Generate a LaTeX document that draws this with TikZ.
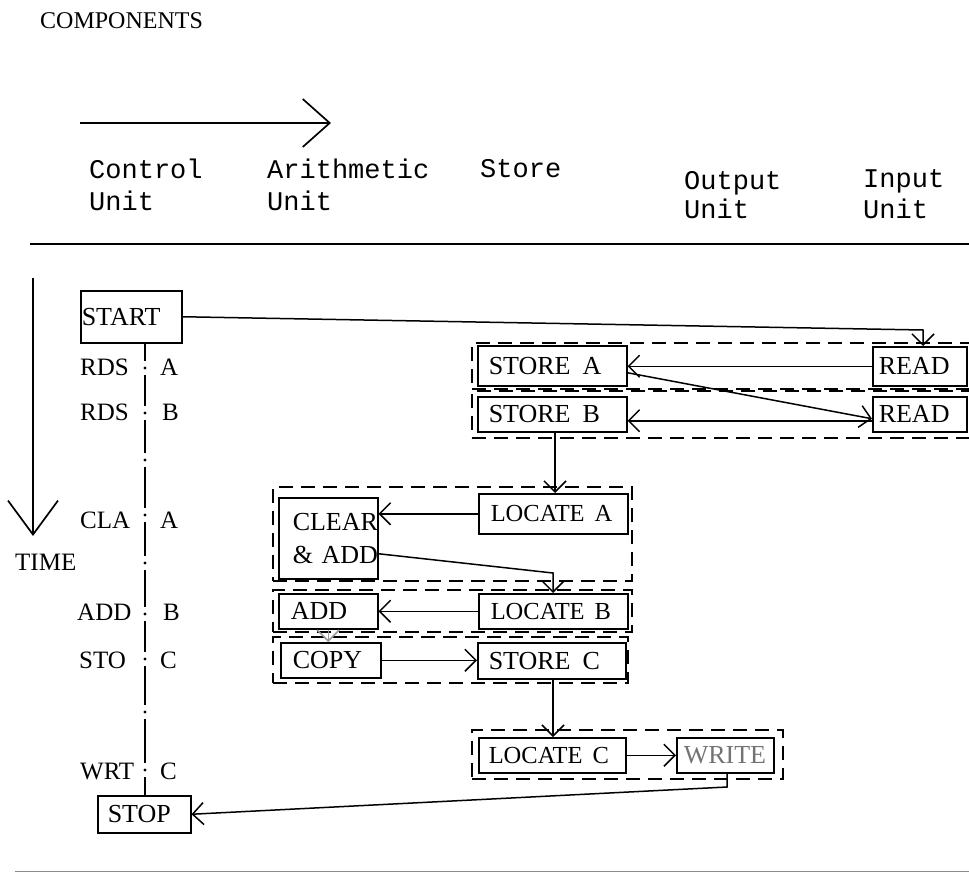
\documentclass[tikz,border=0pt]{standalone}
\usepackage{fontspec}
\setmainfont{Liberation Serif}
\setmonofont{Liberation Mono}
\usetikzlibrary{arrows.meta,fit}
\begin{document}
\begin{tikzpicture}[x=1pt,y=-1pt,
  bx/.style={draw, line width=1.5pt, inner ysep=0pt, align=left, anchor=north west,
    font=\fontsize{26}{33}\selectfont},
  loc/.style={font=\fontsize{24.5}{33}\selectfont},
  grp/.style={draw, dash pattern=on 14pt off 8pt, line width=1.5pt, inner sep=0pt},
  lbl/.style={anchor=base west, inner sep=0pt, font=\fontsize{25}{28}\selectfont},
  mono/.style={anchor=base west, inner sep=0pt, font=\ttfamily\fontsize{27}{32}\selectfont},
  arr/.style={-{Straight Barb[length=11pt,width=22pt]}, line width=1.5pt},
  bigarr/.style={-{Straight Barb[length=27pt,width=48pt]}, line width=1.7pt},
  rule/.style={line width=1.8pt}
]
\useasboundingbox (0,0) rectangle (969,875);

% header
\node[lbl, font=\fontsize{24}{28}\selectfont] (comp) at (40,29) {COMPONENTS};
\coordinate (h0) at (80,123);
\coordinate (h1) at (331,123);
\draw[bigarr] (h0) -- (h1);
\node[mono] (cu1) at (89,178) {Control};
\node[mono] (cu2) at (89,210) {Unit};
\node[mono] (au1) at (267,178) {Arithmetic};
\node[mono] (au2) at (267,210) {Unit};
\node[mono] (su1) at (480,177) {Store};
\node[mono] (ou1) at (684,189) {Output};
\node[mono] (ou2) at (684,218) {Unit};
\node[mono] (iu1) at (863,187) {Input};
\node[mono] (iu2) at (863,218) {Unit};
\coordinate (r0) at (30,244);
\coordinate (r1e) at (969,244);
\draw[rule] (r0) -- (r1e);
\coordinate (b0) at (15,871);
\coordinate (b1) at (969,871);
\draw[line width=1pt, black!45] (b0) -- (b1);

% time arrow
\coordinate (t0) at (33,278);
\coordinate (t1) at (33,536);
\draw[-{Straight Barb[length=34pt,width=50pt]}, line width=1.7pt] (t0) -- (t1);
\node[lbl] (time) at (15,570) {TIME};

% control column
\node[bx, text width=99pt, inner xsep=1pt, minimum height=52pt] (st) at (80,290) {START};
\node[bx, text width=73pt, inner xsep=10pt, minimum height=37pt] (sp) at (97,795) {STOP};
\node[lbl] (i1) at (80,375) {RDS};  \node[lbl] (a1) at (160,375) {A};
\node[lbl] (i2) at (80,420) {RDS};  \node[lbl] (a2) at (162,420) {B};
\node[lbl] (i3) at (80,528) {CLA};  \node[lbl] (a3) at (160,528) {A};
\node[lbl] (i4) at (77,620) {ADD};  \node[lbl] (a4) at (163,620) {B};
\node[lbl] (i5) at (79,668) {STO};  \node[lbl] (a5) at (160,668) {C};
\node[lbl] (i6) at (80,779) {WRT};  \node[lbl] (a6) at (160,779) {C};
% dash-dot control line
\draw[line width=1.5pt]
  (145,342) -- (145,361) (145,375) -- (145,406) (145,420) -- (145,453)
  (145,467) -- (145,508) (145,522) -- (145,556) (145,570) -- (145,607)
  (145,621) -- (145,652) (145,666) -- (145,705) (145,719) -- (145,763)
  (145,777) -- (145,795);
\foreach \yy in {368,413,460,515,563,614,659,712,770}
  \fill (145,\yy) circle (1.7pt);

% dashed groups
\node[grp, fit={(472,343) (975,389)}] (g1) {};
\node[grp, fit={(472,391) (975,438)}] (g2) {};
\node[grp, fit={(273,487) (632,581)}] (g3) {};
\node[grp, fit={(273,590) (632,632)}] (g4) {};
\node[grp, fit={(273,637) (628,683)}] (g5) {};
\node[grp, fit={(472,730) (783,779)}] (g6) {};

% store / unit boxes
\node[bx, text width=127pt, inner xsep=11pt, minimum height=40pt] (sa) at (477,345) {\mbox{STORE\hspace{12pt}A}};
\node[bx, text width=127pt, inner xsep=11pt, minimum height=35pt] (sb) at (477,396) {\mbox{STORE\hspace{12pt}B}};
\node[bx, text width=82pt, inner xsep=6pt, minimum height=39pt] (rd1) at (872,346) {READ};
\node[bx, text width=82pt, inner xsep=6pt, minimum height=35pt] (rd2) at (872,396) {READ};
\node[bx, loc, text width=125pt, inner xsep=12pt, minimum height=40pt] (la) at (478,493) {\mbox{LOCATE\hspace{10pt}A}};
\node[bx, text width=71pt, inner xsep=14pt, minimum height=81pt] (ca) at (278,497) {\mbox{CLEAR}\\\mbox{\& ADD}};
\node[bx, loc, text width=125pt, inner xsep=12pt, minimum height=35pt] (lb) at (478,593) {\mbox{LOCATE\hspace{10pt}B}};
\node[bx, text width=75pt, inner xsep=12pt, minimum height=35pt] (ad) at (278,593) {ADD};
\node[bx, text width=76pt, inner xsep=12pt, minimum height=35pt] (cp) at (280,642) {COPY};
\node[bx, text width=126pt, inner xsep=11pt, minimum height=36pt] (sc) at (477,642) {\mbox{STORE\hspace{12pt}C}};
\node[bx, loc, text width=127pt, inner xsep=10pt, minimum height=35pt] (lc) at (478,737) {\mbox{LOCATE\hspace{10pt}C}};
\node[bx, text width=83pt, inner xsep=7pt, minimum height=35pt, text=black!55] (wr) at (676,737) {WRITE};

% connectors
\coordinate (k1) at (923,330);
\draw[arr] (st.east) -- (k1) -- (k1 |- rd1.north);
\draw[arr] (rd1.west) -- (rd1.west -| sa.east);
\draw[arr] ([yshift=-7pt]sa.east) -- ([yshift=-4.5pt]rd2.west);
\draw[arr] ([yshift=-6.5pt]rd2.west) -- ([yshift=-6.5pt]sb.east);
\coordinate (k4) at (555,431);
\draw[arr] (k4) -- (k4 |- la.north);
\draw[arr] (la.west) -- (la.west -| ca.east);
\coordinate (k2) at (553,573);
\draw[arr] ([yshift=-15.5pt]ca.east) -- (k2) -- (k2 |- lb.north);
\draw[arr] (lb.west) -- (lb.west -| ad.east);
\draw[arr, black!40] (ad.south) -- (ad.south |- cp.north);
\draw[arr] (cp.east) -- (cp.east -| sc.west);
\coordinate (k5) at (553,678);
\draw[arr] (k5) -- (k5 |- lc.north);
\draw[arr] (lc.east) -- (lc.east -| wr.west);
\coordinate (k3) at (727,787);
\draw[arr] (k3 |- wr.south) -- (k3) -- (sp.east);
\end{tikzpicture}
\end{document}
